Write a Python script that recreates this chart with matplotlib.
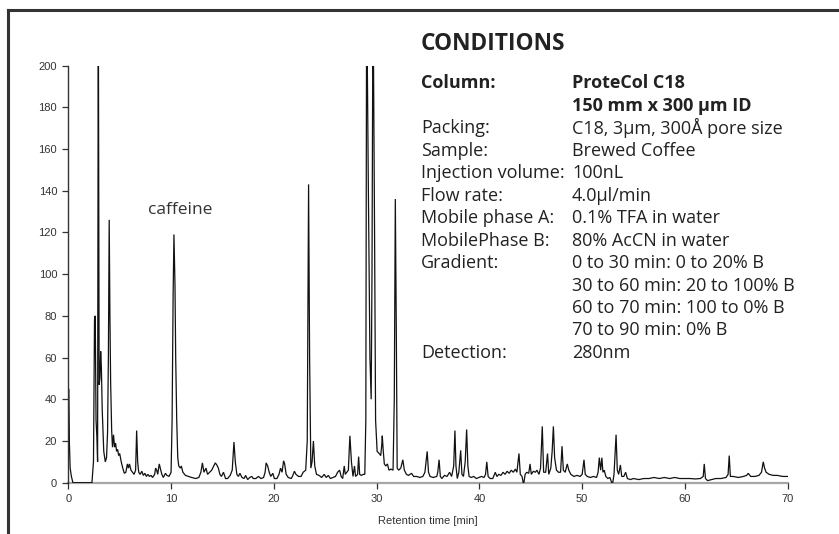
import matplotlib
matplotlib.use("Agg")
import matplotlib.pyplot as plt
from matplotlib.lines import Line2D

# ---- data ----
time_min = [
    0.0, 0.03, 0.1, 0.18, 0.3, 0.45, 2.3, 2.45, 2.55, 2.62, 2.7, 2.78, 2.85, 2.92, 3.0, 3.08, 3.15, 3.22, 3.3,
    3.45, 3.6, 3.72, 3.82, 3.9, 3.98, 4.05, 4.12, 4.22, 4.3, 4.4, 4.5, 4.6, 4.7, 4.8, 4.9, 5.0, 5.15, 5.3,
    5.45, 5.6, 5.75, 5.85, 5.95, 6.1, 6.25, 6.4, 6.55, 6.65, 6.75, 6.85, 7.0, 7.15, 7.3, 7.45, 7.6, 7.75,
    7.9, 8.05, 8.2, 8.4, 8.5, 8.6, 8.7, 8.85, 8.95, 9.1, 9.25, 9.45, 9.6, 9.8, 10.0, 10.1, 10.2, 10.28,
    10.38, 10.45, 10.55, 10.65, 10.75, 10.9, 11.0, 11.15, 11.4, 11.7, 12.0, 12.4, 12.7, 12.9, 13.05, 13.2,
    13.4, 13.55, 13.75, 13.95, 14.15, 14.3, 14.45, 14.6, 14.75, 14.9, 15.1, 15.3, 15.5, 15.75, 15.95, 16.12,
    16.25, 16.4, 16.55, 16.7, 16.9, 17.1, 17.25, 17.45, 17.65, 17.85, 18.0, 18.25, 18.5, 18.75, 19.0, 19.15,
    19.25, 19.4, 19.55, 19.7, 19.9, 20.05, 20.3, 20.5, 20.65, 20.8, 20.95, 21.05, 21.2, 21.4, 21.7, 21.85,
    22.0, 22.15, 22.4, 22.65, 22.85, 23.1, 23.25, 23.38, 23.48, 23.6, 23.72, 23.85, 23.98, 24.15, 24.4,
    24.65, 24.9, 25.1, 25.3, 25.5, 25.75, 26.0, 26.2, 26.4, 26.55, 26.7, 26.85, 26.95, 27.1, 27.25, 27.4,
    27.55, 27.7, 27.85, 27.95, 28.15, 28.25, 28.35, 28.5, 28.7, 28.85, 28.95, 29.03, 29.18, 29.35, 29.47,
    29.55, 29.65, 29.8, 29.9, 30.05, 30.25, 30.4, 30.5, 30.55, 30.65, 30.75, 30.9, 31.05, 31.2, 31.4, 31.6,
    31.72, 31.82, 31.92, 32.0, 32.15, 32.35, 32.55, 32.7, 32.9, 33.1, 33.4, 33.6, 33.9, 34.2, 34.5, 34.7,
    34.92, 35.05, 35.2, 35.5, 35.85, 35.95, 36.08, 36.2, 36.35, 36.6, 36.85, 37.1, 37.3, 37.5, 37.62, 37.72,
    37.85, 38.0, 38.18, 38.3, 38.45, 38.62, 38.76, 38.88, 39.0, 39.2, 39.45, 39.7, 39.95, 40.2, 40.45, 40.6,
    40.72, 40.85, 41.05, 41.3, 41.55, 41.7, 41.9, 42.1, 42.3, 42.5, 42.7, 42.9, 43.1, 43.3, 43.5, 43.65,
    43.85, 43.98, 44.15, 44.3, 44.45, 44.6, 44.8, 44.93, 45.05, 45.25, 45.45, 45.6, 45.8, 45.95, 46.12,
    46.25, 46.45, 46.63, 46.75, 46.95, 47.08, 47.2, 47.32, 47.5, 47.7, 47.9, 48.04, 48.17, 48.35, 48.55,
    48.7, 48.9, 49.2, 49.5, 49.8, 50.0, 50.18, 50.3, 50.5, 50.8, 51.1, 51.4, 51.55, 51.67, 51.8, 51.92,
    52.02, 52.15, 52.3, 52.5, 52.7, 52.95, 53.1, 53.3, 53.42, 53.55, 53.72, 53.85, 54.05, 54.23, 54.4,
    54.7, 55.0, 55.5, 56.0, 56.5, 57.0, 57.5, 58.0, 58.5, 59.0, 59.5, 60.0, 60.5, 61.0, 61.5, 61.78, 61.88,
    62.0, 62.2, 62.6, 63.0, 63.5, 64.0, 64.2, 64.31, 64.42, 64.7, 65.2, 65.7, 66.0, 66.16, 66.4, 66.8,
    67.2, 67.45, 67.62, 67.75, 67.9, 68.2, 68.6, 69.0, 69.5, 70.0,
]
signal = [
    0, 45, 20, 7, 3, 0, 0, 10, 78, 80, 30, 22, 10, 240, 47, 50, 63, 55, 35,
    15, 10, 12, 24, 60, 126, 80, 48, 25, 17, 23, 17, 19, 15, 16, 13, 14, 10, 7,
    4.5, 5, 9, 7, 9, 6, 5, 4, 6, 25, 10, 5, 4, 5.5, 3.5, 4.5, 3, 4,
    3, 3.5, 2.5, 4, 7, 6, 4, 9, 7, 4, 2.5, 4.5, 3.5, 3, 5, 30, 90, 119,
    95, 60, 30, 12, 8, 7, 8, 5, 3.5, 3, 2.5, 2, 2.5, 5, 9.5, 5,
    7, 4, 5, 6, 8, 9.5, 8.5, 7, 4, 3, 5, 2, 2, 3.5, 6, 19.5,
    10, 4, 3, 4.5, 2.5, 2, 3.5, 1.5, 2.5, 3, 2, 2, 3, 2, 2.5, 5,
    9.5, 8, 5, 3, 4.5, 2, 2, 4, 7, 5, 10.5, 9, 4, 2.5, 2, 3.5,
    5.5, 4, 3, 3, 5, 6, 20, 143, 60, 7, 10, 20, 8, 4, 3.5,
    2.5, 4, 2.5, 3.5, 2, 2.5, 3, 5, 6, 3, 2, 8, 4, 5, 6, 22.5,
    10, 3, 8, 3, 4, 12.5, 4, 3.5, 4, 4, 30, 240, 150, 60, 40,
    100, 240, 120, 30, 15, 14, 13, 18, 22.5, 15, 9, 8, 9, 6, 6.5, 6,
    40, 136, 70, 7, 6, 7, 11, 6, 4, 3.5, 4.5, 3, 3, 2.5, 3, 5,
    15, 5, 3, 2.5, 3, 5, 11, 3, 2, 3.5, 3, 5, 3, 8, 25, 8,
    2, 5, 15.5, 4, 3, 10, 25.5, 8, 3, 2.5, 3, 2, 2.5, 3, 2.5, 4,
    10, 3, 2, 2, 5, 3, 4, 3.5, 5, 4, 5.5, 4.5, 6, 5, 6.5, 5,
    14, 4, 3, -1, 4, 5, 4.5, 9, 4, 5.5, 5, 6, 4, 7, 27,
    5, 5, 14, 4, 7, 15, 27, 12, 6, 5, 5, 17.5, 6, 5, 9,
    6, 4, 3, 3.5, 3, 4, 11, 4, 3, 2.5, 3, 2.5, 5, 12, 6, 12,
    5, 6, 3, 2, 2.5, -1, 4, 23, 6, 4, 8.5, 3, 3, 5, 2,
    1.5, 2, 1.5, 2, 2, 2.5, 2, 2.5, 2, 2.5, 2, 2, 2, 1.8, 2, 3, 9,
    2, 1, 1.5, 2, 2, 2.5, 4, 13, 3, 3, 2.5, 3, 3.5, 4.5, 3, 3,
    3.5, 5, 10, 7, 5, 4, 3.5, 3.5, 3, 3,
]
x_ticks = [0, 10, 20, 30, 40, 50, 60, 70]
y_ticks = [0, 20, 40, 60, 80, 100, 120, 140, 160, 180, 200]
x_label = "Retention time [min]"
peak_label = "caffeine"

cond_title = "CONDITIONS"
cond_labels = ["Column:", "", "Packing:", "Sample:", "Injection volume:", "Flow rate:",
               "Mobile phase A:", "MobilePhase B:", "Gradient:", "", "", "", "Detection:"]
cond_values = ["ProteCol C18", "150 mm x 300 \u00b5m ID", "C18, 3\u00b5m, 300\u00c5 pore size",
               "Brewed Coffee", "100nL", "4.0\u00b5l/min", "0.1% TFA in water",
               "80% AcCN in water", "0 to 30 min: 0 to 20% B", "30 to 60 min: 20 to 100% B",
               "60 to 70 min: 100 to 0% B", "70 to 90 min: 0% B", "280nm"]
cond_bold = [True, True] + [False] * 11

W, H = 839, 534
fig = plt.figure(figsize=(W / 100, H / 100), dpi=100)
fig.patch.set_facecolor("white")

ax = fig.add_axes([68.3 / W, 1 - 482.7 / H, (787.7 - 68.3) / W, (482.7 - 65.5) / H])
ax.plot(time_min, signal, color="#111111", lw=0.9, solid_joinstyle="miter")
ax.set_xlim(0, 70)
ax.set_ylim(0, 200)
ax.set_xticks(x_ticks)
ax.set_yticks(y_ticks)
for s in ("top", "right"):
    ax.spines[s].set_visible(False)
ax.spines["left"].set_color("#333333")
ax.spines["left"].set_linewidth(1.0)
ax.spines["bottom"].set_color("#a6a6a6")
ax.spines["bottom"].set_linewidth(1.6)
ax.spines["bottom"].set_zorder(0)
ax.tick_params(axis="both", direction="out", length=4, width=0.9, color="#333333",
               labelsize=8, labelcolor="#333333", pad=4)
for lab in ax.get_xticklabels() + ax.get_yticklabels():
    lab.set_fontfamily("Liberation Sans")
ax.set_xlabel(x_label, fontsize=8, color="#333333", family="Liberation Sans", labelpad=9)
ax.patch.set_alpha(0)

fig.text(148 / W, 1 - 210 / H, peak_label, fontsize=12.5,
         family="Open Sans", color="#333333", va="center", ha="left")

# conditions block
fig.text(421 / W, 1 - 44 / H, cond_title, fontsize=16.3, weight="bold", family="Open Sans",
         color="#222222", va="center", ha="left")
row0, step = 83.5, 22.45
for i, (lab, val, b) in enumerate(zip(cond_labels, cond_values, cond_bold)):
    y = 1 - (row0 + i * step) / H
    w = "bold" if b else "normal"
    if lab:
        fig.text(421 / W, y, lab, fontsize=13, weight=w, family="Open Sans",
                 color="#222222", va="center", ha="left")
    fig.text(572 / W, y, val, fontsize=13, weight=w, family="Open Sans",
             color="#222222", va="center", ha="left")

# frame lines (top and left)
fig.add_artist(Line2D([8.3 / W, 1.0], [1 - 9.5 / H, 1 - 9.5 / H], transform=fig.transFigure,
                      color="#333333", lw=2.2))
fig.add_artist(Line2D([8.3 / W, 8.3 / W], [1 - 9.5 / H, 0], transform=fig.transFigure,
                      color="#333333", lw=2.2))

fig.savefig("out.png", dpi=100, facecolor="white")
